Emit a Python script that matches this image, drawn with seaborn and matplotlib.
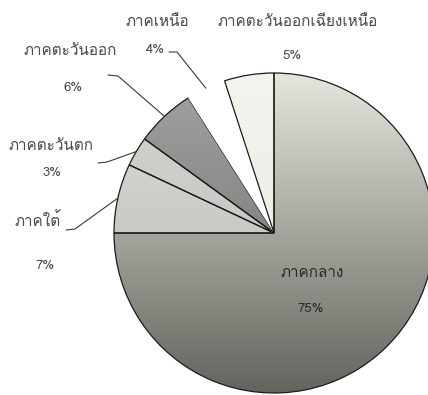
import numpy as np
import matplotlib
matplotlib.use("Agg")
import matplotlib.pyplot as plt
import seaborn as sns
from matplotlib import font_manager
from matplotlib.colors import LinearSegmentedColormap

# Share of establishments by region (percent)
regions = ["ภาคกลาง", "ภาคใต้", "ภาคตะวันตก", "ภาคตะวันออก", "ภาคเหนือ",
           "ภาคตะวันออกเฉียงเหนือ"]
shares = [75, 7, 3, 6, 4, 5]
share_labels = [f"{v}%" for v in shares]

sns.set_theme(style="white")


def thai_families():
    """Installed font families that carry Thai glyphs."""
    try:
        from fontTools.ttLib import TTFont
    except ImportError:
        return []
    found = []
    for entry in font_manager.fontManager.ttflist:
        if entry.name in found:
            continue
        try:
            cmap = TTFont(entry.fname, fontNumber=0, lazy=True).getBestCmap()
        except Exception:
            continue
        if cmap and 0x0E01 in cmap and 0x0E32 in cmap:
            found.append(entry.name)
    return found


plt.rcParams["font.family"] = thai_families()[:1] + ["DejaVu Sans"]

W, H = 428, 395
fig = plt.figure(figsize=(W / 100, H / 100), dpi=100)
ax = fig.add_axes([0, 0, 1, 1])


def py(y):
    """Convert a top-down pixel row into the axes' upward y."""
    return H - y


cx, cy, R = 274, py(233), 160

# vertical shading (top colour, bottom colour) for each slice; None = plain white
shading = [("#e6e6de", "#64645e"),
           ("#dededa", "#b4b4b0"),
           ("#d4d4d0", "#bcbcb8"),
           ("#a2a2a0", "#6a6a68"),
           None,
           ("#f4f4ee", "#e8e8e2")]

wedges, _ = ax.pie(shares, startangle=90, counterclock=False,
                   center=(cx, cy), radius=R, colors=["white"] * len(shares),
                   wedgeprops=dict(edgecolor="#1c1c1c", linewidth=0.9))

grad = np.linspace(0, 1, 256).reshape(-1, 1)
for wedge, shade in zip(wedges, shading):
    if shade is None:
        wedge.set_edgecolor("none")
        continue
    cmap = LinearSegmentedColormap.from_list("shade", list(shade))
    im = ax.imshow(grad, cmap=cmap, extent=(cx - R, cx + R, cy - R, cy + R),
                   origin="upper", aspect="auto", zorder=0.5)
    im.set_clip_path(wedge)
    wedge.set_facecolor("none")

# label placement (pixel rows from the top)
name_pos = [(312, 273), (38, 221), (51, 146), (70, 51), (157, 22), (298, 22)]
pct_pos = [(311, 309), (45, 266), (52, 173), (73, 88), (155, 50), (292, 56)]
text_color = ["#2a2a2a", "#4a4a4a", "#4a4a4a", "#4a4a4a", "#4a4a4a", "#4a4a4a"]

for name, pct, (nx, ny), (qx, qy), col in zip(regions, share_labels, name_pos,
                                              pct_pos, text_color):
    ax.text(nx, py(ny), name, ha="center", va="center", fontsize=11, color=col)
    ax.text(qx, py(qy), pct, ha="center", va="center", fontsize=9.5, color=col)

# leader lines: text-side start and elbow, ending on the slice's mid-angle rim
leaders = {1: [(66, 230), (75, 229)],
           2: [(98, 163), (107, 162)],
           3: [(108, 75), (118, 76)],
           4: [(169, 52), (177, 52)]}
for idx, pts in leaders.items():
    w = wedges[idx]
    ang = np.deg2rad((w.theta1 + w.theta2) / 2)
    xs = [p[0] for p in pts] + [cx + R * np.cos(ang)]
    ys = [py(p[1]) for p in pts] + [cy + R * np.sin(ang)]
    ax.plot(xs, ys, color="#3a3a3a", lw=0.8, zorder=3)

ax.set_xlim(0, W)
ax.set_ylim(0, H)
ax.set_aspect("equal")
ax.axis("off")
fig.savefig("out.png", dpi=100, facecolor="white")
